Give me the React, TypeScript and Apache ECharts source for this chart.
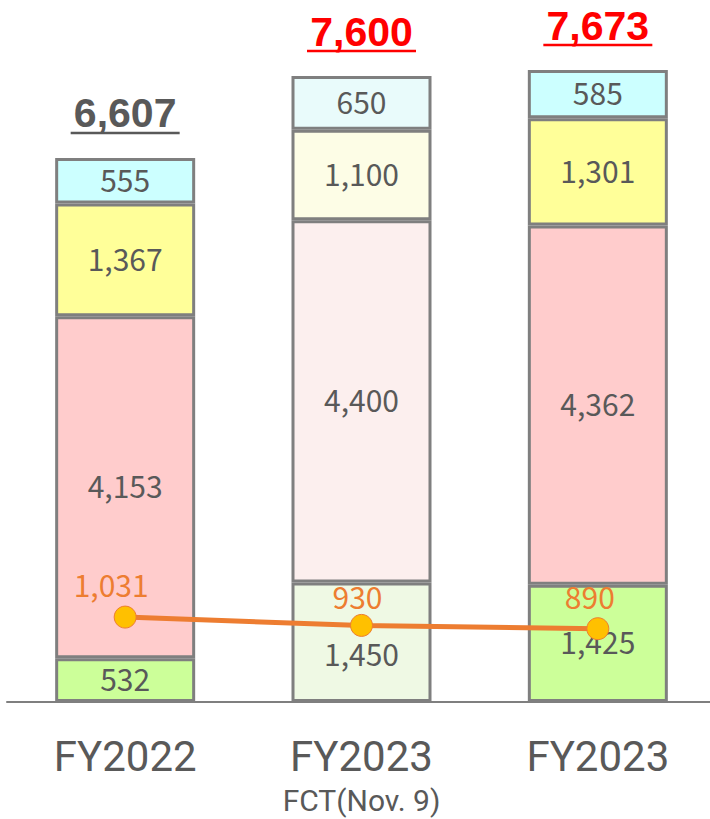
import React, { useEffect, useRef } from "react";
import * as echarts from "echarts";

const categories = ["FY2022", "FY2023", "FY2023"];
const subLabels = ["", "FCT(Nov. 9)", ""];
const seriesGreen = [532, 1450, 1425];
const seriesPink = [4153, 4400, 4362];
const seriesYellow = [1367, 1100, 1301];
const seriesCyan = [555, 650, 585];
const lineValues = [1031, 930, 890];
const totalColors = ["#595959", "#FF0000", "#FF0000"];

const solidColors = { green: "#CCFF99", pink: "#FFCCCC", yellow: "#FFFF99", cyan: "#CCFFFF" };
const paleColors = { green: "#eff9e4", pink: "#fcefee", yellow: "#fdfde6", cyan: "#e9fbfb" };

const FONT = '"Noto Sans CJK JP", "Noto Sans", sans-serif';
const AXIS_FONT = 'Roboto, "Liberation Sans", sans-serif';

function barData(values: number[], key: "green" | "pink" | "yellow" | "cyan", labelOffsets?: any[]) {
  return values.map((v, i) => {
    const item: any = {
      value: v,
      itemStyle: { color: i === 1 ? paleColors[key] : solidColors[key] },
    };
    if (labelOffsets && labelOffsets[i]) item.label = { offset: labelOffsets[i] };
    return item;
  });
}

export default function App() {
  const ref = useRef<HTMLDivElement>(null);
  useEffect(() => {
    document.body.style.margin = "0";
    document.body.style.overflow = "hidden";
    const chart = echarts.init(ref.current!, null, { renderer: "svg" });
    const totals = categories.map((_, i) => seriesGreen[i] + seriesPink[i] + seriesYellow[i] + seriesCyan[i]);
    const barCommon = {
      type: "bar",
      stack: "total",
      barWidth: 140,
      itemStyle: { borderColor: "#7f7f7f", borderWidth: 3 },
      label: {
        show: true,
        position: "inside",
        color: "#595959",
        fontFamily: FONT,
        fontSize: 30,
        offset: [0, -2],
        formatter: (p: any) => Number(p.value).toLocaleString("en-US"),
      },
    };
    const lineOffsets = [[-14, -3], [-4, 1], [-8, -2]];
    chart.setOption({
      animation: false,
      grid: { left: 7, width: 709, top: 2, bottom: 117 },
      xAxis: {
        type: "category",
        data: categories.map((c, i) => (subLabels[i] ? c + "\n" + subLabels[i] : c)),
        axisLine: { lineStyle: { color: "#7f7f7f", width: 2 } },
        axisTick: { show: false },
        axisLabel: {
          margin: 29,
          interval: 0,
          formatter: (v: string) => {
            const parts = v.split("\n");
            return parts.length > 1 ? `{a|${parts[0]}}\n{b|${parts[1]}}` : `{a|${parts[0]}}`;
          },
          rich: {
            a: { fontFamily: AXIS_FONT, fontSize: 42, color: "#595959", lineHeight: 50 },
            b: { fontFamily: AXIS_FONT, fontSize: 30, color: "#595959", lineHeight: 38 },
          },
        },
      },
      yAxis: { type: "value", min: 0, max: 8500, show: false, splitLine: { show: false } },
      series: [
        { ...barCommon, name: "green", data: barData(seriesGreen, "green", [null, [0, 11], null]) },
        { ...barCommon, name: "pink", data: barData(seriesPink, "pink") },
        { ...barCommon, name: "yellow", data: barData(seriesYellow, "yellow") },
        { ...barCommon, name: "cyan", data: barData(seriesCyan, "cyan") },
        {
          type: "line",
          data: lineValues.map((v, i) => ({ value: v, label: { offset: lineOffsets[i] } })),
          z: 10,
          lineStyle: { color: "#ED7D31", width: 5 },
          symbol: "circle",
          symbolSize: 22,
          itemStyle: { color: "#FFC000", borderColor: "#ED7D31", borderWidth: 1 },
          label: {
            show: true,
            position: "top",
            distance: 4,
            color: "#ED7D31",
            fontFamily: FONT,
            fontSize: 30,
            formatter: (p: any) => Number(p.value).toLocaleString("en-US"),
          },
        },
        {
          type: "custom",
          z: 11,
          data: totals.map((t, i) => [i, t]),
          renderItem: (params: any, api: any) => {
            const i = params.dataIndex;
            const p = api.coord([api.value(0), api.value(1)]);
            const lineY = p[1] - 25;
            const w = 109;
            return {
              type: "group",
              children: [
                {
                  type: "text",
                  x: p[0],
                  y: lineY + 1,
                  style: {
                    text: Number(api.value(1)).toLocaleString("en-US"),
                    fill: totalColors[i],
                    font: `bold 41px "Liberation Sans", Arial, sans-serif`,
                    align: "center",
                    verticalAlign: "bottom",
                  },
                },
                {
                  type: "line",
                  shape: { x1: p[0] - w / 2, y1: lineY, x2: p[0] + w / 2, y2: lineY },
                  style: { stroke: totalColors[i], lineWidth: 2.5 },
                },
              ],
            };
          },
        },
      ],
    });
    return () => chart.dispose();
  }, []);
  return <div ref={ref} style={{ width: 720, height: 819 }} />;
}
